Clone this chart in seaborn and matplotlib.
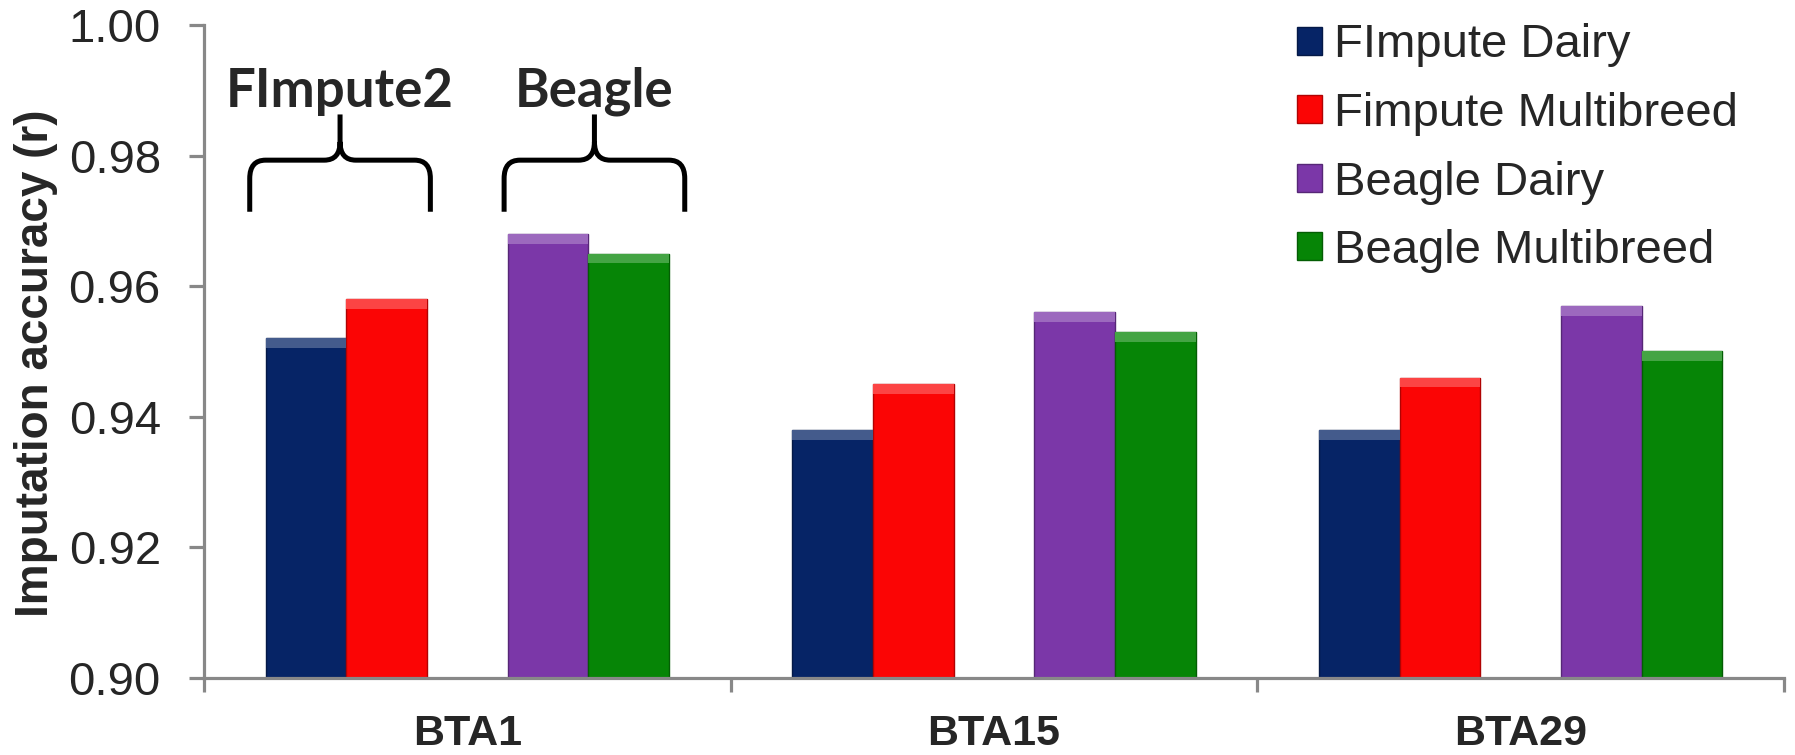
import matplotlib
matplotlib.use("Agg")
import matplotlib.pyplot as plt
from matplotlib.path import Path
from matplotlib.patches import PathPatch, Patch
from matplotlib.colors import to_rgb
import pandas as pd
import seaborn as sns

# ---- data -------------------------------------------------------------
chromosomes = ["BTA1", "BTA15", "BTA29"]
fimpute_dairy = [0.952, 0.938, 0.938]
fimpute_multibreed = [0.958, 0.945, 0.946]
beagle_dairy = [0.968, 0.956, 0.957]
beagle_multibreed = [0.965, 0.953, 0.950]
series_names = ["FImpute Dairy", "Fimpute Multibreed", "Beagle Dairy", "Beagle Multibreed"]
group_labels = ["FImpute2", "Beagle"]
y_ticks = [0.90, 0.92, 0.94, 0.96, 0.98, 1.00]
y_label = "Imputation accuracy (r)"

series_colors = ["#062466", "#FB0505", "#7B37A8", "#068506"]
spacer = " "

rows = []
for name, values in zip(series_names, [fimpute_dairy, fimpute_multibreed,
                                        beagle_dairy, beagle_multibreed]):
    for chrom, v in zip(chromosomes, values):
        rows.append({"chromosome": chrom, "method": name, "accuracy": v})
df = pd.DataFrame(rows)

# an empty slot separates the FImpute pair from the Beagle pair
hue_order = series_names[:2] + [spacer] + series_names[2:]
palette = dict(zip(series_names, series_colors))
palette[spacer] = "white"

# ---- figure -----------------------------------------------------------
sns.set_style("white")
plt.rcParams["font.family"] = ["Liberation Sans", "DejaVu Sans"]

fig = plt.figure(figsize=(17.95, 7.55), dpi=100)
ax = fig.add_axes([0.1136, 0.102, 0.8802, 0.8649])

sns.barplot(data=df, x="chromosome", y="accuracy", hue="method",
            hue_order=hue_order, order=chromosomes, palette=palette,
            width=0.766, errorbar=None, legend=False, ax=ax,
            saturation=1)


def darker(c, f=0.7):
    r, g, b = to_rgb(c)
    return (r * f, g * f, b * f)


def lighter(c, f=0.25):
    r, g, b = to_rgb(c)
    return (r + (1 - r) * f, g + (1 - g) * f, b + (1 - b) * f)


# bevelled look: darker outline plus a light band along the top of each bar
for bar in ax.patches:
    fc = bar.get_facecolor()
    bar.set_edgecolor(darker(fc))
    bar.set_linewidth(1.0)
    h = bar.get_height()
    if h != h:
        continue
    band = 0.0015
    ax.add_patch(plt.Rectangle((bar.get_x(), h - band), bar.get_width(), band,
                               facecolor=lighter(fc), edgecolor="none",
                               zorder=bar.get_zorder() + 0.1))

ax.set_ylim(0.90, 1.00)
ax.set_xlim(-0.5, len(chromosomes) - 0.5)
ax.set_yticks(y_ticks)
ax.set_yticklabels([f"{t:.2f}" for t in y_ticks])
ax.set_xticks(range(len(chromosomes)))
ax.set_xticklabels(chromosomes, fontweight="bold")
ax.set_xticks([i - 0.5 for i in range(len(chromosomes) + 1)], minor=True)
ax.set_xlabel("")
ax.set_ylabel("")

axis_grey = "#888888"
for side in ("top", "right"):
    ax.spines[side].set_visible(False)
for side in ("left", "bottom"):
    ax.spines[side].set_color(axis_grey)
    ax.spines[side].set_linewidth(2.3)

ax.tick_params(axis="y", which="major", direction="out", length=11, width=2.3,
               color=axis_grey, labelsize=34, pad=20, left=True)
ax.tick_params(axis="x", which="major", length=0, labelsize=31, pad=26)
ax.tick_params(axis="x", which="minor", direction="out", length=10, width=2.3,
               color=axis_grey, bottom=True)

fig.text(0.020, 0.519, y_label, rotation=90, ha="center", va="center",
         fontsize=33, fontweight="bold")


# ---- group braces over the first chromosome --------------------------
def brace(ax, x0, x1, y_base, y_bar, y_tip, rx=0.03, ry=0.0028):
    xm = (x0 + x1) / 2
    verts = [
        (x0, y_base), (x0, y_bar - ry),
        (x0, y_bar), (x0 + rx, y_bar),
        (xm - rx, y_bar),
        (xm, y_bar), (xm, y_bar + ry),
        (xm, y_tip),
        (xm, y_bar + ry),
        (xm, y_bar), (xm + rx, y_bar),
        (x1 - rx, y_bar),
        (x1, y_bar), (x1, y_bar - ry),
        (x1, y_base),
    ]
    codes = [Path.MOVETO, Path.LINETO,
             Path.CURVE3, Path.CURVE3,
             Path.LINETO,
             Path.CURVE3, Path.CURVE3,
             Path.LINETO,
             Path.MOVETO,
             Path.CURVE3, Path.CURVE3,
             Path.LINETO,
             Path.CURVE3, Path.CURVE3,
             Path.LINETO]
    ax.add_patch(PathPatch(Path(verts, codes), facecolor="none",
                           edgecolor="black", linewidth=3.6,
                           capstyle="butt", clip_on=False))


brace_spans = [(-0.413, -0.070), (0.070, 0.413)]
for (x0, x1), label in zip(brace_spans, group_labels):
    brace(ax, x0, x1, 0.9714, 0.9793, 0.9863)
    ax.text((x0 + x1) / 2, 0.9898, label, ha="center", va="center",
            fontsize=38, fontweight="bold", family=["Lato", "DejaVu Sans"])

# ---- legend -----------------------------------------------------------
handles = [Patch(facecolor=c, edgecolor=darker(c), linewidth=1.0)
           for c in series_colors]
fig.legend(handles, series_names, loc="upper left",
           bbox_to_anchor=(0.7226, 0.969), frameon=False, fontsize=34,
           handlelength=0.53, handleheight=0.53, handletextpad=0.25,
           labelspacing=0.52, borderpad=0, borderaxespad=0)

fig.savefig("out.png", dpi=100, facecolor="white")
